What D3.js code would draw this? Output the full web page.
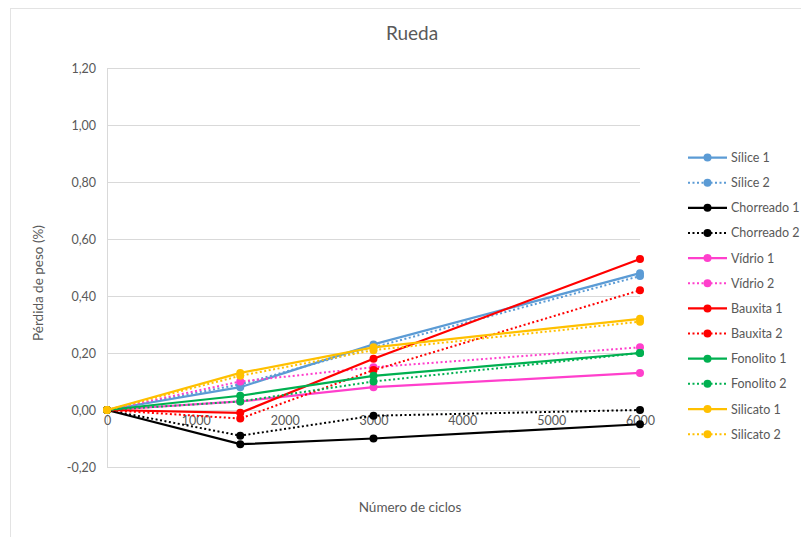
<!DOCTYPE html>
<html><head><meta charset="utf-8">
<script src="https://cdn.jsdelivr.net/npm/d3@7"></script>
<style>body{margin:0;background:#fff}svg{display:block}text{font-family:Lato,"Open Sans",sans-serif;fill:#595959}</style>
</head><body><svg id="c" width="801" height="537"></svg>
<script>
const cycles = [0, 1500, 3000, 6000];
const seriesNames = ["Sílice 1","Sílice 2","Chorreado 1","Chorreado 2","Vídrio 1","Vídrio 2","Bauxita 1","Bauxita 2","Fonolito 1","Fonolito 2","Silicato 1","Silicato 2"];
const silice1 = [0, 0.08, 0.23, 0.48];
const silice2 = [0, 0.09, 0.22, 0.47];
const chorreado1 = [0, -0.12, -0.10, -0.05];
const chorreado2 = [0, -0.09, -0.02, 0.00];
const vidrio1 = [0, 0.03, 0.08, 0.13];
const vidrio2 = [0, 0.10, 0.15, 0.22];
const bauxita1 = [0, -0.01, 0.18, 0.53];
const bauxita2 = [0, -0.03, 0.14, 0.42];
const fonolito1 = [0, 0.05, 0.12, 0.20];
const fonolito2 = [0, 0.03, 0.10, 0.20];
const silicato1 = [0, 0.13, 0.22, 0.32];
const silicato2 = [0, 0.12, 0.21, 0.31];
const colors = ["#5B9BD5","#5B9BD5","#000000","#000000","#FF3FCC","#FF3FCC","#FF0000","#FF0000","#00B050","#00B050","#FFC000","#FFC000"];
const dotted = [false,true,false,true,false,true,false,true,false,true,false,true];
const xTicks = [0,1000,2000,3000,4000,5000,6000];
const yTicks = [-0.2,0,0.2,0.4,0.6,0.8,1.0,1.2];
const values = [silice1,silice2,chorreado1,chorreado2,vidrio1,vidrio2,bauxita1,bauxita2,fonolito1,fonolito2,silicato1,silicato2];

const svg = d3.select("#c");
// chart border
svg.append("line").attr("x1",10).attr("x2",801).attr("y1",8.5).attr("y2",8.5).attr("stroke","#e3e3e3");
svg.append("line").attr("x1",10.5).attr("x2",10.5).attr("y1",8).attr("y2",537).attr("stroke","#e3e3e3");

const x = d3.scaleLinear().domain([0,6000]).range([107,640]);
const y = d3.scaleLinear().domain([-0.2,1.2]).range([467,68]);
const fmt = v => d3.format(".2f")(v).replace(".",",").replace("−","-");

// gridlines
svg.append("g").selectAll("line").data(yTicks).join("line")
  .attr("x1",x(0)).attr("x2",x(6000)).attr("y1",d=>Math.round(y(d))+0.5).attr("y2",d=>Math.round(y(d))+0.5)
  .attr("stroke","#d9d9d9").attr("stroke-width",1);
// vertical axis line
svg.append("line").attr("x1",Math.round(x(0))+0.5).attr("x2",Math.round(x(0))+0.5).attr("y1",y(1.2)).attr("y2",y(-0.2)).attr("stroke","#d9d9d9");

// y axis labels
const yAxis = d3.axisLeft(y).tickValues(yTicks).tickFormat(fmt).tickSize(0).tickPadding(11);
const gy = svg.append("g").attr("transform",`translate(${x(0)},0)`).call(yAxis);
gy.select(".domain").remove();
gy.selectAll("text").style("font-size","12.5px").attr("fill","#595959").style("font-family","Lato,sans-serif");

// x axis labels at y=0
const xAxis = d3.axisBottom(x).tickValues(xTicks).tickFormat(d3.format("d")).tickSize(0).tickPadding(6);
const gx = svg.append("g").attr("transform",`translate(0,${y(0)})`).call(xAxis);
gx.select(".domain").remove();
gx.selectAll("text").style("font-size","12.5px").attr("fill","#595959").style("font-family","Lato,sans-serif");

// series
const line = d3.line().x((d,i)=>x(cycles[i])).y(d=>y(d));
values.forEach((vals,k)=>{
  const g = svg.append("g");
  g.append("path").attr("d",line(vals)).attr("fill","none").attr("stroke",colors[k])
    .attr("stroke-width",dotted[k]?2:2.25).attr("stroke-dasharray",dotted[k]?"2,2.5":null);
  g.selectAll("circle").data(vals).join("circle").attr("cx",(d,i)=>x(cycles[i])).attr("cy",d=>y(d))
    .attr("r",4).attr("fill",colors[k]);
});

// legend
const lg = svg.append("g");
seriesNames.forEach((n,k)=>{
  const yy = 157.5 + k*25.15;
  lg.append("line").attr("x1",688).attr("x2",727).attr("y1",yy).attr("y2",yy).attr("stroke",colors[k])
    .attr("stroke-width",dotted[k]?2:2.25).attr("stroke-dasharray",dotted[k]?"2,2.5":null);
  lg.append("circle").attr("cx",707.5).attr("cy",yy).attr("r",4).attr("fill",colors[k]);
  lg.append("text").attr("x",731).attr("y",yy+4.5).style("font-size","12.5px").text(n);
});

// titles
svg.append("text").attr("x",412).attr("y",40).attr("text-anchor","middle").style("font-size","19px").text("Rueda");
svg.append("text").attr("x",410).attr("y",512).attr("text-anchor","middle").style("font-size","13.5px").text("Número de ciclos");
svg.append("text").attr("transform","translate(43,283) rotate(-90)").attr("text-anchor","middle").style("font-size","13.5px").text("Pérdida de peso (%)");
</script></body></html>
